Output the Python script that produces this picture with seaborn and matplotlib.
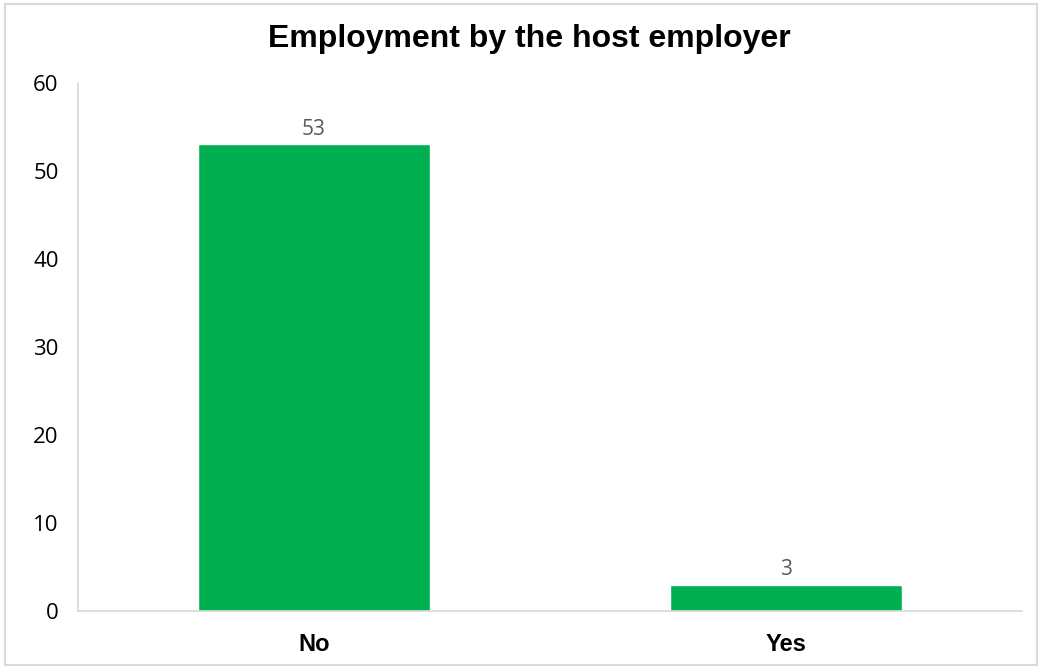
import matplotlib
matplotlib.use("Agg")
import matplotlib.pyplot as plt
from matplotlib.patches import FancyBboxPatch
import seaborn as sns
import pandas as pd

categories = ["No", "Yes"]
counts = [53, 3]
y_ticks = [0, 10, 20, 30, 40, 50, 60]

sns.set_theme(style="white")
plt.rcParams["font.family"] = ["Liberation Sans", "DejaVu Sans"]

df = pd.DataFrame({"answer": categories, "count": counts})

fig = plt.figure(figsize=(10.42, 6.68), dpi=100)
ax = fig.add_axes([0.0749, 0.0853, 0.906, 0.7907])

sns.barplot(data=df, x="answer", y="count", color="#00B050", saturation=1,
            width=0.49, ax=ax)

ax.set_xlim(-0.5, 1.5)
ax.set_ylim(0, 60)
ax.set_yticks(y_ticks)
ax.set_yticklabels([str(t) for t in y_ticks], fontsize=16, family="Open Sans",
                   color="#000000")
ax.set_xticks(range(len(categories)))
ax.set_xticklabels(categories, fontsize=17, fontweight="bold", color="#000000")
ax.tick_params(axis="both", length=0)
ax.tick_params(axis="y", pad=14)
ax.tick_params(axis="x", pad=16)
ax.set_xlabel("")
ax.set_ylabel("")

for side in ["top", "right"]:
    ax.spines[side].set_visible(False)
for side in ["left", "bottom"]:
    ax.spines[side].set_color("#D9D9D9")
    ax.spines[side].set_linewidth(1.2)

for cont in ax.containers:
    ax.bar_label(cont, labels=[str(v) for v in counts], padding=3,
                 fontsize=15, family="Open Sans", color="#595959")

fig.text(0.508, 0.942, "Employment by the host employer", ha="center",
         va="center", fontsize=23, fontweight="bold", color="#000000")

border = FancyBboxPatch((0.005, 0.004), 0.99, 0.99, transform=fig.transFigure,
                        boxstyle="square,pad=0", fill=False,
                        edgecolor="#D9D9D9", linewidth=1.5)
fig.patches.append(border)

fig.savefig("out.png", dpi=100, facecolor="white")
